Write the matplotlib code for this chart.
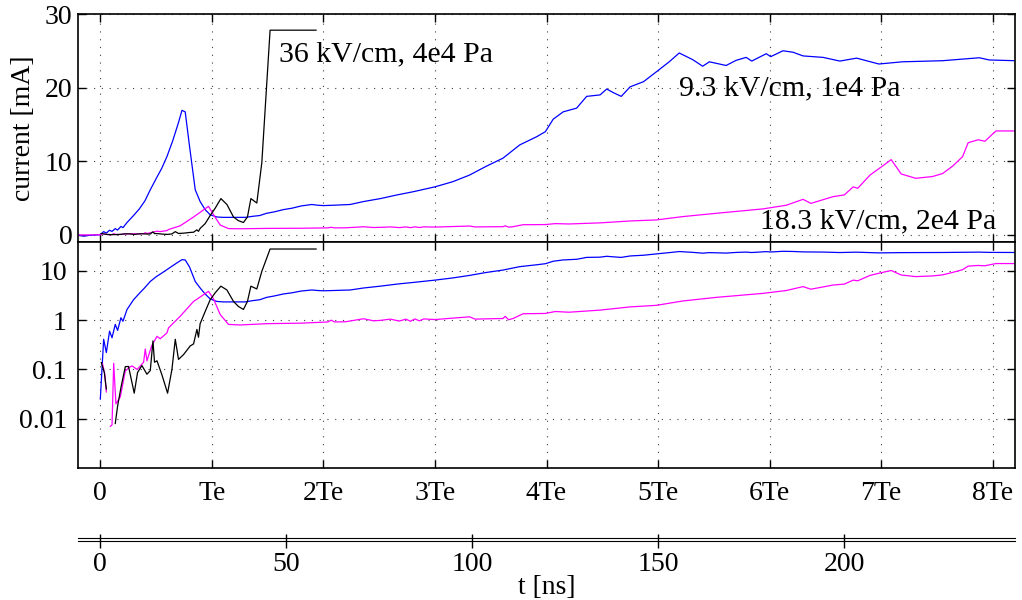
import numpy as np
import matplotlib
matplotlib.use("Agg")
import matplotlib.pyplot as plt
from matplotlib.ticker import FixedLocator, NullFormatter, NullLocator

plt.rcParams['font.family'] = ['Liberation Serif', 'DejaVu Serif']

# ---------------- data (time in units of Te, current in mA) ----------------
TE_NS = 30.0  # Te in ns

t_blue = [-0.2, -0.15, -0.1, -0.05, -0.01, 0.0, 0.03, 0.054, 0.083, 0.105, 0.134,
          0.155, 0.185, 0.203, 0.239, 0.298, 0.35, 0.40, 0.448, 0.50, 0.55, 0.597,
          0.65, 0.70, 0.732, 0.761, 0.80, 0.851, 0.895, 0.94, 0.985, 1.045, 1.10,
          1.2, 1.3, 1.37, 1.43, 1.49, 1.56, 1.64, 1.72, 1.80, 1.896, 1.95, 2.0,
          2.09, 2.24, 2.36, 2.51, 2.66, 2.81, 3.0, 3.16, 3.31, 3.46, 3.61, 3.76,
          3.91, 3.99, 4.06, 4.15, 4.27, 4.36, 4.48, 4.54, 4.60, 4.67, 4.75, 4.87,
          4.99, 5.1, 5.19, 5.31, 5.40, 5.46, 5.61, 5.70, 5.79, 5.84, 5.97, 6.01,
          6.12, 6.21, 6.30, 6.48, 6.63, 6.78, 6.98, 7.19, 7.55, 7.88, 7.97, 8.2]
i_blue = [-0.05, -0.2, -0.1, -0.05, -0.02, 0.025, 0.41, 0.22, 0.6, 0.44, 0.82,
          0.62, 1.12, 0.95, 1.64, 2.6, 3.5, 4.6, 6.1, 7.6, 9.0, 10.6,
          12.8, 15.2, 16.9, 16.7, 12.0, 6.1, 4.5, 3.4, 2.7, 2.4, 2.35,
          2.35, 2.35, 2.5, 2.6, 2.9, 3.1, 3.4, 3.6, 3.9, 4.1, 4.0, 3.95,
          4.0, 4.1, 4.5, 4.9, 5.4, 5.85, 6.5, 7.2, 8.1, 9.3, 10.4, 12.2,
          13.3, 14.0, 15.7, 16.7, 17.2, 18.8, 19.0, 19.8, 19.3, 18.8, 20.1, 20.8,
          22.2, 23.5, 24.7, 23.8, 22.9, 23.5, 23.0, 23.7, 24.1, 23.6, 24.6, 24.2,
          25.0, 24.8, 24.3, 24.1, 23.6, 24.0, 23.2, 23.5, 23.65, 24.05, 23.75, 23.65]

t_magenta = [-0.2, 0.0, 0.02, 0.04, 0.054, 0.07, 0.09, 0.105, 0.12, 0.14, 0.18,
             0.224, 0.26, 0.284, 0.33, 0.388, 0.403, 0.418, 0.46, 0.508, 0.537,
             0.597, 0.612, 0.716, 0.836, 0.97, 1.015, 1.075, 1.149, 1.254, 1.5,
             1.8, 2.04, 2.07, 2.1, 2.2, 2.36, 2.45, 2.51, 2.6, 2.68, 2.74, 2.78,
             2.82, 2.86, 2.90, 3.0, 3.31, 3.36, 3.5, 3.61, 3.63, 3.66, 3.7, 3.79,
             3.99, 4.08, 4.2, 4.48, 4.75, 4.985, 5.22, 5.52, 5.94, 6.15, 6.30,
             6.37, 6.57, 6.67, 6.75, 6.79, 6.90, 7.01, 7.09, 7.18, 7.31, 7.46,
             7.55, 7.64, 7.73, 7.78, 7.87, 7.93, 7.99, 8.03, 8.2]
i_magenta = [-0.05, -0.02, 0.13, 0.08, 0.035, 0.0, 0.007, 0.0075, 0.133, 0.02, 0.028,
             0.093, 0.11, 0.118, 0.10, 0.14, 0.26, 0.15, 0.30, 0.47, 0.42,
             0.55, 0.70, 1.2, 2.4, 3.85, 2.7, 1.3, 0.82, 0.80, 0.85,
             0.87, 0.92, 1.0, 0.92, 0.93, 1.07, 0.97, 0.99, 1.05, 0.96, 1.05, 0.95,
             1.06, 0.97, 1.06, 1.03, 1.17, 1.05, 1.07, 1.08, 1.2, 1.02, 1.08, 1.35,
             1.37, 1.5, 1.45, 1.6, 1.86, 2.0, 2.45, 2.9, 3.5, 4.0, 4.8,
             4.25, 5.17, 5.4, 6.5, 6.3, 8.1, 9.3, 10.2, 8.25, 7.66, 7.9,
             8.3, 9.3, 10.6, 12.5, 12.9, 12.7, 13.55, 14.1, 14.1]

t_black = [0.009, 0.036, 0.054, 0.09, 0.134, 0.155, 0.185, 0.224, 0.253, 0.304,
           0.334, 0.373, 0.418, 0.448, 0.472, 0.486, 0.508, 0.553, 0.603, 0.642,
           0.672, 0.701, 0.746, 0.806, 0.836, 0.866, 0.88, 0.895, 0.940, 0.985,
           1.03, 1.081, 1.135, 1.194, 1.238, 1.283, 1.319, 1.35, 1.403, 1.448,
           1.522, 1.934]
i_black = [0.138, 0.087, 0.04, 0.0, 0.008, 0.018, 0.043, 0.114, 0.115, 0.033,
           0.087, 0.12, 0.08, 0.095, 0.38, 0.14, 0.15, 0.077, 0.033, 0.10,
           0.41, 0.16, 0.20, 0.30, 0.33, 0.65, 0.45, 0.85, 1.5, 2.6,
           3.6, 4.9, 4.1, 2.4, 1.9, 1.65, 2.4, 4.9, 4.3, 9.8,
           27.8, 27.8]

series = [
    (t_blue, i_blue, 'blue', '9.3 kV/cm, 1e4 Pa', (5.19, 19.0)),
    (t_magenta, i_magenta, 'magenta', '18.3 kV/cm, 2e4 Pa', (5.91, 0.87)),
    (t_black, i_black, 'black', '36 kV/cm, 4e4 Pa', (1.60, 23.6)),
]

te_ticks = [0, 1, 2, 3, 4, 5, 6, 7, 8]
te_labels = ['0', 'Te', '2Te', '3Te', '4Te', '5Te', '6Te', '7Te', '8Te']
lin_ticks = [0, 10, 20, 30]
log_ticks = [0.01, 0.1, 1, 10]
log_labels = ['0.01', '0.1', '1', '10']
ns_ticks = [0, 50, 100, 150, 200]

# ---------------- figure ----------------
FS = 20
fig = plt.figure(figsize=(10.22, 6.0), dpi=100)
L, W = 78 / 1022, 937 / 1022
ax1 = fig.add_axes([L, 1 - 242 / 600, W, 228 / 600])
ax2 = fig.add_axes([L, 1 - 468 / 600, W, 226 / 600])
ax3 = fig.add_axes([L, 1 - 541 / 600, W, 2.6 / 600])

xlim = (-0.2, 8.2)
grid_kw = dict(color='0.25', linestyle=(0, (1, 6)), linewidth=0.8)

for t, i, c, lab, pos in series:
    t = np.asarray(t)
    i = np.asarray(i)
    ax1.plot(t, i, color=c, lw=0.9)
    ax2.plot(t, np.where(i > 0, i, np.nan), color=c, lw=0.9)
    ax1.text(pos[0], pos[1], lab, fontsize=21.5, ha='left', va='baseline')

for ax in (ax1, ax2):
    ax.set_xlim(*xlim)
    ax.xaxis.set_major_locator(FixedLocator(te_ticks))
    ax.tick_params(direction='in', length=6, width=1.0, top=True, right=True,
                   labelsize=FS)
    ax.grid(True, **grid_kw)
    for s in ax.spines.values():
        s.set_linewidth(1.2)

ax1.set_ylim(-1, 30)
ax1.yaxis.set_major_locator(FixedLocator(lin_ticks))
ax1.xaxis.set_major_formatter(NullFormatter())
ax1.tick_params(axis='y', pad=4)
ax1.set_ylabel('current [mA]', fontsize=FS, labelpad=6)

ax2.set_yscale('log')
ax2.set_ylim(1e-3, 38.6)
ax2.yaxis.set_major_locator(FixedLocator(log_ticks))
ax2.yaxis.set_minor_locator(NullLocator())
ax2.set_yticklabels(log_labels)
ax2.set_xticklabels(te_labels)
ax2.tick_params(axis='y', pad=8)
ax2.tick_params(axis='x', pad=9)

ax3.set_xlim(xlim[0] * TE_NS, xlim[1] * TE_NS)
ax3.set_ylim(0, 1)
ax3.xaxis.set_major_locator(FixedLocator(ns_ticks))
ax3.set_yticks([])
ax3.spines['left'].set_visible(False)
ax3.spines['right'].set_visible(False)
ax3.spines['top'].set_linewidth(0.8)
ax3.spines['bottom'].set_linewidth(0.8)
ax3.tick_params(axis='x', direction='inout', length=10, width=1.0,
                labelsize=FS, pad=3)
ax3.set_facecolor('none')

fig.text(L + W / 2, 1 - 588 / 600, 't [ns]', fontsize=FS, ha='center', va='center')

fig.savefig('out.png', dpi=100)
